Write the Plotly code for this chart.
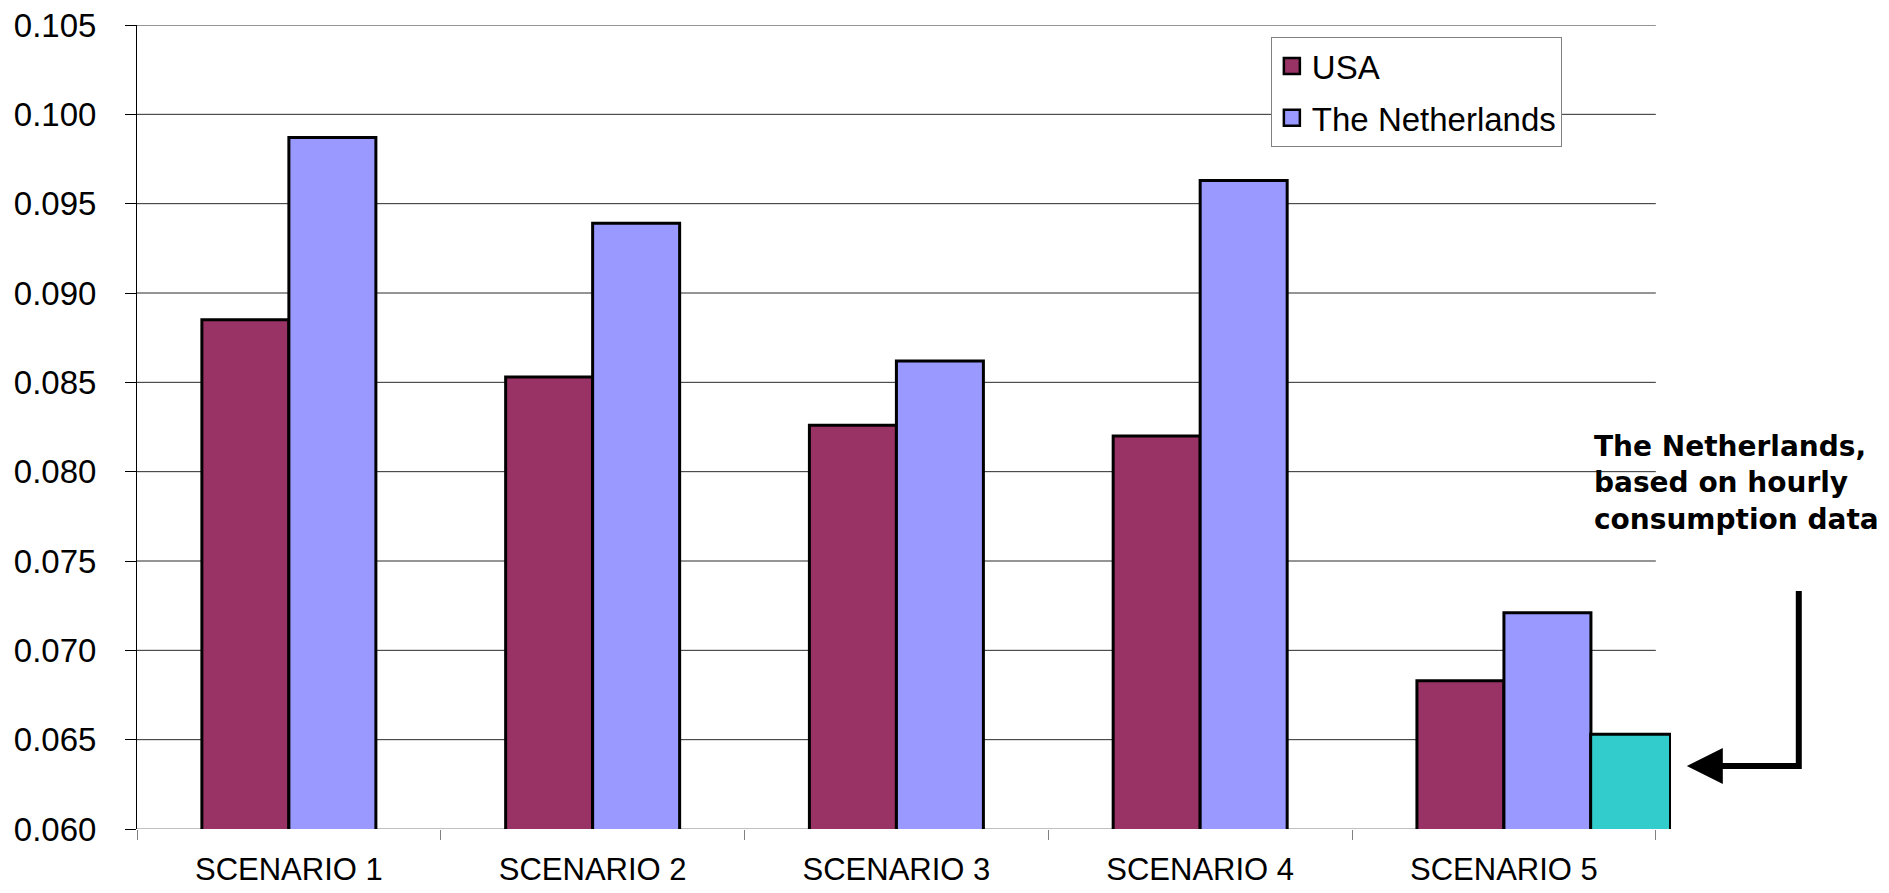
import plotly.graph_objects as go

# ---- data ----
scenarios = ["SCENARIO 1", "SCENARIO 2", "SCENARIO 3", "SCENARIO 4", "SCENARIO 5"]
usa = [0.0885, 0.0853, 0.0826, 0.0820, 0.0683]
netherlands = [0.0987, 0.0939, 0.0862, 0.0963, 0.0721]
hourly_cat = ["SCENARIO 5"]
hourly_nl = [0.0653]
y_ticks = [0.060, 0.065, 0.070, 0.075, 0.080, 0.085, 0.090, 0.095, 0.100, 0.105]
series_names = ["USA", "The Netherlands"]
series_colors = ["#993366", "#9999FF"]

# ---- layout geometry (pixels) ----
W, H = 1889, 893
L, T, B = 137, 25, 829
CAT_PX = 303.8                     # width of one category in pixels
X_MAX = 4.55                       # axis range end (room for the extra bar)
R = L + (X_MAX + 0.5) * CAT_PX     # right edge of plotting area
GRID_END = 1656                    # gridlines stop at the last category boundary


def px_x(x):
    return (x - L) / (R - L)


def px_y(y):
    return (B - y) / (B - T)


FONT = "Liberation Sans, Arial, sans-serif"
BAR_W = 0.2864
HOURLY_BASE = 0.0599

fig = go.Figure()
fig.add_trace(go.Bar(
    name=series_names[0], x=scenarios, y=usa,
    offset=-BAR_W, width=BAR_W,
    marker=dict(color=series_colors[0], line=dict(color="black", width=3)),
    showlegend=False,
))
fig.add_trace(go.Bar(
    name=series_names[1], x=scenarios, y=netherlands,
    offset=0, width=BAR_W,
    marker=dict(color=series_colors[1], line=dict(color="black", width=3)),
    showlegend=False,
))
fig.add_trace(go.Bar(
    name="hourly", x=hourly_cat, y=[v - HOURLY_BASE for v in hourly_nl],
    base=HOURLY_BASE, offset=0.2855, width=0.263,
    marker=dict(color="#33CCCC", line=dict(color="black", width=3)),
    showlegend=False, cliponaxis=False,
))
# legend entries (larger square keys)
for i, (nm, col) in enumerate(zip(series_names, series_colors)):
    fig.add_trace(go.Scatter(
        name=nm, x=[None], y=[None], mode="markers",
        marker=dict(symbol="square", size=18, color=col,
                    line=dict(color="black", width=2.5)),
        legendgroup=str(i), showlegend=True, hoverinfo="skip",
    ))

fig.update_layout(
    width=W, height=H,
    margin=dict(l=L, r=W - R, t=T, b=H - B, pad=0, autoexpand=False),
    paper_bgcolor="white", plot_bgcolor="white",
    barmode="overlay",
    font=dict(family=FONT, size=31, color="black"),
    showlegend=True,
    legend=dict(
        x=px_x(1271), y=px_y(37), xanchor="left", yanchor="top",
        bgcolor="white", bordercolor="#808080", borderwidth=1,
        font=dict(family=FONT, size=33, color="black"),
        traceorder="grouped", tracegroupgap=6,
        itemwidth=30,
    ),
)

fig.update_yaxes(
    range=[0.060, 0.105], tickvals=y_ticks, tickformat=".3f",
    automargin=False,
    showgrid=False,
    showline=True, linecolor="black", linewidth=1,
    ticks="outside", ticklen=11, tickcolor="black", tickwidth=1,
    ticklabelstandoff=22,
    zeroline=False,
    tickfont=dict(family=FONT, size=33),
)
fig.update_xaxes(
    type="category", categoryorder="array", categoryarray=scenarios,
    range=[-0.5, X_MAX], tickson="boundaries", automargin=False,
    ticks="outside", ticklen=10, tickcolor="#808080", tickwidth=1,
    showline=False,
    showgrid=False,
    tickfont=dict(family=FONT, size=31),
    ticklabelstandoff=19,
)

# horizontal gridlines at each y tick, ending at the last category boundary
for i, v in enumerate(y_ticks):
    fig.add_shape(
        type="line", xref="paper", yref="y",
        x0=0, x1=px_x(GRID_END), y0=v, y1=v,
        line=dict(color="#808080" if i == 0 else "#2a2a2a", width=1),
        layer="below",
    )

# annotation text
fig.add_annotation(
    xref="paper", yref="paper", x=px_x(1592), y=px_y(428),
    xanchor="left", yanchor="top", align="left", showarrow=False,
    text="<b>The Netherlands,<br>based on hourly<br>consumption data</b>",
    font=dict(family="DejaVu Sans, Verdana, sans-serif", size=28, color="black"),
)

# L-shaped arrow: vertical part as a shape, horizontal with arrowhead
fig.add_shape(
    type="line", xref="paper", yref="paper",
    x0=px_x(1799), x1=px_x(1799), y0=px_y(591), y1=px_y(769),
    line=dict(color="black", width=6),
)
fig.add_annotation(
    xref="paper", yref="paper", x=px_x(1687), y=px_y(766),
    axref="pixel", ayref="pixel", ax=115, ay=0,
    text="", showarrow=True, arrowhead=2, arrowsize=1.2, arrowwidth=6,
    arrowcolor="black", standoff=0,
)

fig.write_html(
    "out.html",
    config={"displayModeBar": False},
    post_script="document.body.style.margin='0';document.body.style.overflow='hidden';",
)
